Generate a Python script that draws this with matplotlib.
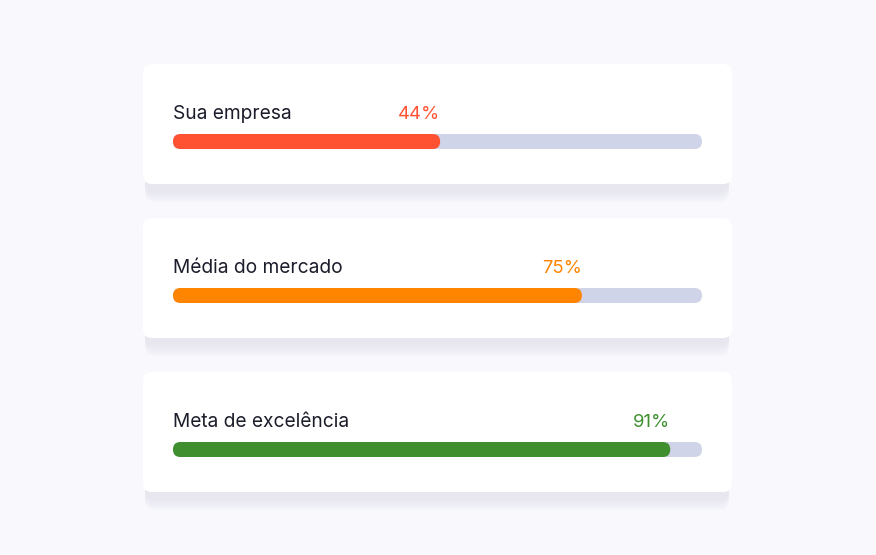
import matplotlib
matplotlib.use("Agg")
import matplotlib.pyplot as plt
from matplotlib.patches import FancyBboxPatch

# data
labels = ["Sua empresa", "Média do mercado", "Meta de excelência"]
pct = [44, 75, 91]
fill = [0.505, 0.773, 0.940]          # drawn length of each bar, share of the track
colors = ["#ff5233", "#ff8500", "#3f8f2f"]

W, H = 876, 555
fig = plt.figure(figsize=(W / 100, H / 100), dpi=100)
fig.patch.set_facecolor("#f8f8fd")
ax = fig.add_axes([0, 0, 1, 1])
ax.set_xlim(0, W)
ax.set_ylim(H, 0)
ax.axis("off")

card_x, card_w, card_h = 143, 589, 120
card_top0, step = 64, 154
bar_x0, bar_w, bar_h = 173, 529, 15
font = ["Inter", "DejaVu Sans"]

for i in range(len(labels)):
    top = card_top0 + i * step

    # blurred shadow under the card, built from stacked faint layers
    for ext in [14, 12, 10, 8, 6, 4]:
        ax.add_patch(FancyBboxPatch((card_x + 2, top + 4), card_w - 5, card_h + ext,
                                    boxstyle="round,pad=0,rounding_size=10",
                                    fc="#dcdae8", ec="none", alpha=0.11, zorder=1))
    ax.add_patch(FancyBboxPatch((card_x, top), card_w, card_h,
                                boxstyle="round,pad=0,rounding_size=9",
                                fc="white", ec="none", zorder=2))

    # track and fill
    by = top + 70
    ax.add_patch(FancyBboxPatch((bar_x0, by), bar_w, bar_h,
                                boxstyle="round,pad=0,rounding_size=7.5",
                                fc="#d0d4e8", ec="none", zorder=3))
    fx = bar_x0 + fill[i] * bar_w
    ax.add_patch(FancyBboxPatch((bar_x0, by), fx - bar_x0, bar_h,
                                boxstyle="round,pad=0,rounding_size=7.5",
                                fc=colors[i], ec="none", zorder=4))

    base = top + 55
    ax.text(bar_x0, base, labels[i], fontsize=13.8, family=font,
            color="#1c1d2b", ha="left", va="baseline", zorder=5)
    ax.text(fx, base, f"{pct[i]}%", fontsize=13.3, family=font,
            color=colors[i], ha="right", va="baseline", zorder=5)

fig.savefig("out.png", dpi=100, facecolor=fig.get_facecolor())
